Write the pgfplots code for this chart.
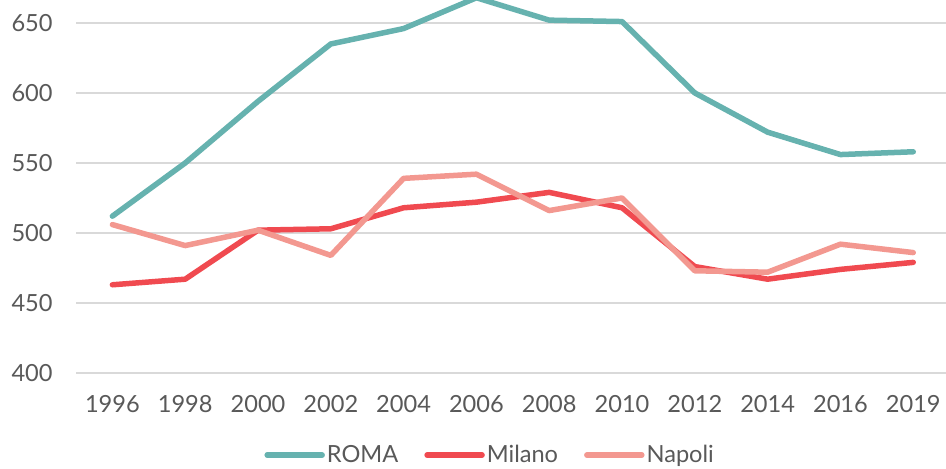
\documentclass[border=0pt]{standalone}
\usepackage{fontspec}
\setmainfont{Lato}
\usepackage{pgfplots}
\pgfplotsset{compat=1.18}
\definecolor{romacol}{RGB}{102,178,175}
\definecolor{milanocol}{RGB}{240,74,80}
\definecolor{napolicol}{RGB}{243,152,144}
\definecolor{labelgray}{RGB}{89,89,89}
\definecolor{gridgray}{RGB}{217,217,217}

\begin{document}
\begin{tikzpicture}
\begin{axis}[name=ax,
  scale only axis, width=435pt, height=186.5pt,
  xmin=-0.5, xmax=11.45, ymin=400, ymax=666.4,
  xtick={0,...,11},
  xticklabels={1996,1998,2000,2002,2004,2006,2008,2010,2012,2014,2016,2019},
  ytick={400,450,...,650},
  /pgf/number format/assume math mode=true,
  major tick length=0pt,
  axis line style={draw=none},
  ymajorgrids, grid style={draw=gridgray, line width=0.75pt},
  tick label style={font=\fontsize{11.8}{13}\selectfont, text=labelgray, inner sep=0pt},
  yticklabel style={anchor=east, xshift=-11.5pt},
  xticklabel style={anchor=north, yshift=-11pt},
  clip mode=individual,
  legend columns=3,
  legend style={draw=none, fill=none, at={(0.476,-0.22)}, anchor=center,
    font=\fontsize{11.8}{13}\selectfont, text=labelgray,
    nodes={inner sep=1pt},
    /tikz/every even column/.append style={column sep=12pt}},
  legend image code/.code={\draw[#1] (0pt,0pt) -- (27.5pt,0pt);},
  every axis plot/.append style={line width=2.75pt, line cap=round, line join=round},
]
\addplot[color=romacol] coordinates
  {(0,512)(1,550)(2,594)(3,635)(4,646)(5,668)
   (6,652)(7,651)(8,600)(9,572)(10,556)(11,558)};
\addlegendentry{ROMA}
\addplot[color=milanocol] coordinates
  {(0,463)(1,467)(2,502)(3,503)(4,518)(5,522)
   (6,529)(7,518)(8,476)(9,467)(10,474)(11,479)};
\addlegendentry{Milano}
\addplot[color=napolicol] coordinates
  {(0,506)(1,491)(2,502)(3,484)(4,539)(5,542)
   (6,516)(7,525)(8,473)(9,472)(10,492)(11,486)};
\addlegendentry{Napoli}
\end{axis}
\pgfresetboundingbox
\path[use as bounding box] ([shift={(-38pt,-48pt)}]ax.south west) rectangle ([shift={(0pt,0pt)}]ax.north east);
\end{tikzpicture}
\end{document}
